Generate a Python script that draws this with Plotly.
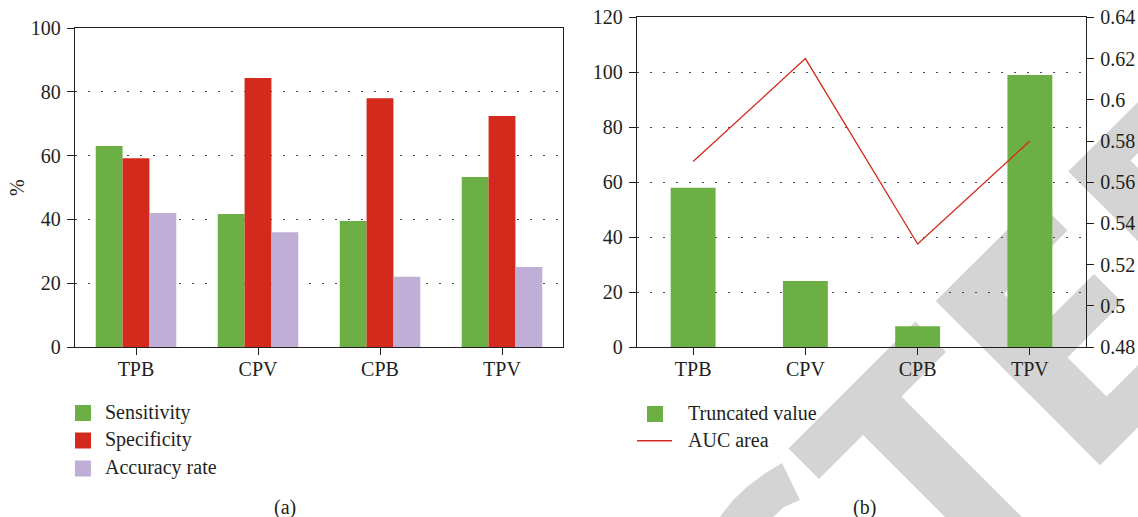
import plotly.graph_objects as go

# ---------------------------------------------------------------- data
categories = ["TPB", "CPV", "CPB", "TPV"]

sensitivity = [63.0, 41.7, 39.5, 53.3]
specificity = [59.2, 84.3, 78.0, 72.4]
accuracy_rate = [42.0, 36.0, 22.0, 25.1]

truncated_value = [58.0, 24.0, 7.6, 99.0]
auc_area = [0.57, 0.62, 0.53, 0.58]

pct_ticks = [0, 20, 40, 60, 80, 100]
trunc_ticks = [0, 20, 40, 60, 80, 100, 120]
auc_ticks = [0.48, 0.50, 0.52, 0.54, 0.56, 0.58, 0.60, 0.62, 0.64]
auc_tick_labels = ["0.48", "0.5", "0.52", "0.54", "0.56", "0.58", "0.6", "0.62", "0.64"]

# ---------------------------------------------------------------- style
W, H = 1138, 517
GREEN = "#6cb045"
RED = "#d42a1e"
PURPLE = "#bfaed6"
INK = "#231f20"
GRID = "#4a4a4a"
SHADE = "#d4d4d4"
FONT = "Liberation Serif"
FS = 20


def px(x):
    return x / W


def py(y):
    return 1 - y / H


fig = go.Figure()

# ---------------------------------------------------------------- panel (a)
for name, vals, col in [
    ("Sensitivity", sensitivity, GREEN),
    ("Specificity", specificity, RED),
    ("Accuracy rate", accuracy_rate, PURPLE),
]:
    fig.add_trace(go.Bar(x=categories, y=vals, name=name, marker_color=col,
                         marker_line_width=0, xaxis="x", yaxis="y"))

# ---------------------------------------------------------------- panel (b)
fig.add_trace(go.Bar(x=categories, y=truncated_value, name="Truncated value",
                     marker_color=GREEN, marker_line_width=0, width=0.4,
                     xaxis="x2", yaxis="y2"))
fig.add_trace(go.Scatter(x=categories, y=auc_area, name="AUC area", mode="lines",
                         line=dict(color=RED, width=1.3), xaxis="x2", yaxis="y3"))

axis_common = dict(showline=True, linecolor=INK, linewidth=1.3, ticks="outside",
                   ticklen=7, tickwidth=1.3, tickcolor=INK, automargin=False,
                   tickfont=dict(family=FONT, size=FS, color=INK))
grid_common = dict(showgrid=True, gridcolor=GRID, gridwidth=1.2,
                   griddash="2px,11px", zeroline=False)

fig.update_layout(
    width=W, height=H,
    margin=dict(l=0, r=0, t=0, b=0, pad=0, autoexpand=False),
    paper_bgcolor="white",
    plot_bgcolor="rgba(0,0,0,0)",
    showlegend=False,
    barmode="group", bargap=0.34, bargroupgap=0,
    font=dict(family=FONT, size=FS, color=INK),
    xaxis=dict(domain=[px(75), px(563)], anchor="y", type="category",
               range=[-0.5, 3.5], mirror=True, showgrid=False,
               ticklabelstandoff=-3, **axis_common),
    yaxis=dict(domain=[py(347), py(28)], anchor="x", range=[0, 100],
               tickvals=pct_ticks, mirror=True, ticklabelstandoff=2,
               **grid_common, **axis_common),
    xaxis2=dict(domain=[px(637), px(1086)], anchor="y2", type="category",
                range=[-0.5, 3.5], mirror=True, showgrid=False,
                ticklabelstandoff=-3, **axis_common),
    yaxis2=dict(domain=[py(347), py(17.4)], anchor="x2", range=[0, 120],
                tickvals=trunc_ticks, ticklabelstandoff=2,
                **grid_common, **axis_common),
    yaxis3=dict(overlaying="y2", anchor="x2", side="right", range=[0.48, 0.64],
                tickvals=auc_ticks, ticktext=auc_tick_labels, showgrid=False,
                zeroline=False, ticklabelstandoff=2, **axis_common),
)

shapes = []
annotations = []

# ---------------------------------------------------------------- background "RETRACTED" stamp
# strokes given in a frame rotated by 45 degrees: s = x + y, d = x - y (pixels)
def sd_rect(s0, s1, d0, d1):
    return [(s0, d0), (s0, d1), (s1, d1), (s1, d0)]


def sd_to_xy(pts):
    return [((s + d) / 2, (s - d) / 2) for s, d in pts]


CAP, BASE = 1237, 1565
stamp_strokes = [
    sd_rect(CAP, 1298, 340, 594),    # T bar
    sd_rect(1296, BASE, 428, 505),   # T stem
    sd_rect(CAP, BASE, 635, 710),    # E stem
    sd_rect(CAP, 1298, 635, 837),    # E top arm
    sd_rect(1368, 1425, 635, 820),   # E middle arm
    sd_rect(1503, BASE, 635, 850),   # E bottom arm
    sd_rect(1240, BASE, 897, 970),   # D stem
    sd_rect(1240, 1291, 897, 1300),  # D top bow
]
polys = [sd_to_xy(p) for p in stamp_strokes]
# tail of the C
polys.append([(716, 522), (733, 500), (747, 487), (764, 474), (782, 463),
              (800, 500), (784, 507), (768, 522)])

for poly in polys:
    path = "M " + " L ".join(f"{px(x):.5f},{py(y):.5f}" for x, y in poly) + " Z"
    shapes.append(dict(type="path", xref="paper", yref="paper", path=path,
                       fillcolor=SHADE, line=dict(width=0), layer="below"))

# ---------------------------------------------------------------- legends
def legend_box(x0, yc, color):
    shapes.append(dict(type="rect", xref="paper", yref="paper",
                       x0=px(x0), x1=px(x0 + 16), y0=py(yc + 8), y1=py(yc - 8),
                       fillcolor=color, line=dict(width=0)))


def legend_text(x, yc, text):
    annotations.append(dict(xref="paper", yref="paper", x=px(x), y=py(yc),
                            xanchor="left", yanchor="middle", text=text,
                            showarrow=False, font=dict(family=FONT, size=FS, color=INK)))


for yc, name, col in [(413, "Sensitivity", GREEN), (440.5, "Specificity", RED),
                      (468.5, "Accuracy rate", PURPLE)]:
    legend_box(75, yc, col)
    legend_text(103, yc - 1, name)

legend_box(647, 414, GREEN)
legend_text(686, 413, "Truncated value")
shapes.append(dict(type="line", xref="paper", yref="paper", x0=px(637), x1=px(672),
                   y0=py(440.7), y1=py(440.7), line=dict(color=RED, width=1.5)))
legend_text(686, 440, "AUC area")

# ---------------------------------------------------------------- labels
annotations.append(dict(xref="paper", yref="paper", x=px(17), y=py(188), text="%",
                        textangle=-90, showarrow=False, xanchor="center",
                        yanchor="middle", font=dict(family=FONT, size=FS, color=INK)))
for x, t in [(285, "(a)"), (864, "(b)")]:
    annotations.append(dict(xref="paper", yref="paper", x=px(x), y=py(507), text=t,
                            showarrow=False, xanchor="center", yanchor="middle",
                            font=dict(family=FONT, size=FS, color=INK)))

fig.update_layout(shapes=shapes, annotations=annotations)

fig.write_html("out.html")
